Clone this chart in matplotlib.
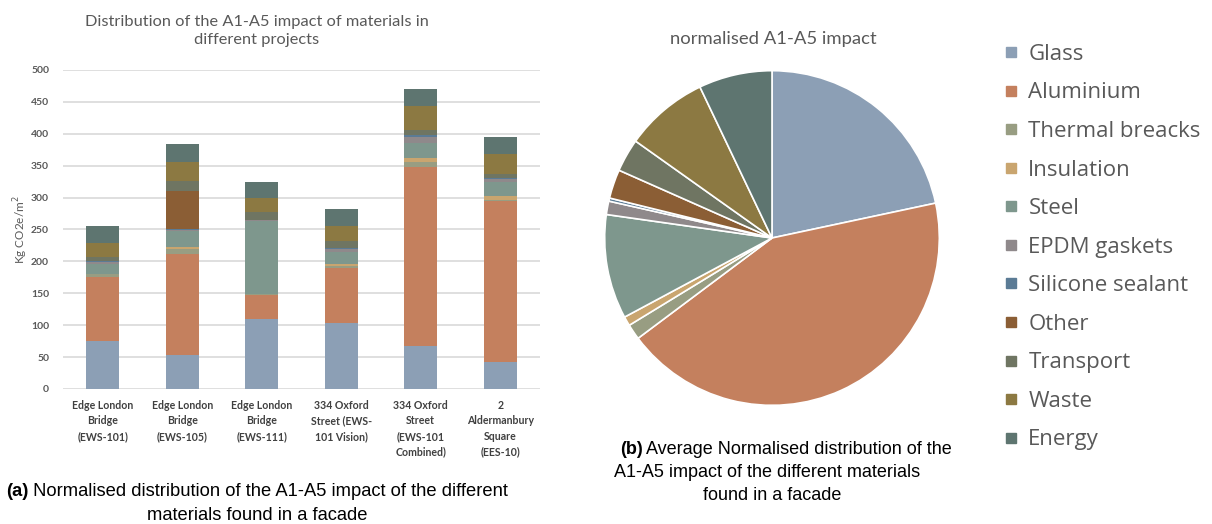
import matplotlib.pyplot as plt
from matplotlib.lines import Line2D
import numpy as np

# --- data -------------------------------------------------------------------
projects = [
    "Edge London\nBridge\n(EWS-101)",
    "Edge London\nBridge\n(EWS-105)",
    "Edge London\nBridge\n(EWS-111)",
    "334 Oxford\nStreet (EWS-\n101 Vision)",
    "334 Oxford\nStreet\n(EWS-101\nCombined)",
    "2\nAldermanbury\nSquare\n(EES-10)",
]
materials = ["Glass", "Aluminium", "Thermal breacks", "Insulation", "Steel",
             "EPDM gaskets", "Silicone sealant", "Other", "Transport",
             "Waste", "Energy"]

glass = [75, 53, 110, 104, 68, 42]
aluminium = [100, 159, 38, 85, 280, 252]
thermal = [5, 8, 1, 4, 8, 3]
insulation = [1, 3, 0, 3, 6, 5]
steel = [15, 25, 115, 18, 24, 22]
epdm = [3, 2, 1, 5, 9, 5]
silicone = [1, 0.5, 0, 2, 3, 2]
other = [0, 60, 0, 0, 0, 0]
transport = [7, 15, 13, 11, 8, 6]
waste = [22, 31, 22, 23, 38, 31]
energy = [26, 27, 25, 27, 26, 27]

# average normalised share (%) for the pie
pie_share = [21.7, 43.2, 1.5, 0.9, 10.1, 1.3, 0.3, 2.8, 3.2, 8.1, 7.1]

colors = ["#8C9FB5", "#C4805E", "#989D82", "#C9A56F", "#7E978D", "#8F898B",
          "#5B7B95", "#8B5E35", "#6F7562", "#8C7942", "#5E7570"]

series = [glass, aluminium, thermal, insulation, steel, epdm, silicone,
          other, transport, waste, energy]

TXT = "#595959"
CHART_FONT = ["Lato", "DejaVu Sans"]
LEG_FONT = ["Open Sans", "DejaVu Sans"]
CAP_FONT = ["Liberation Sans", "DejaVu Sans"]
W, H = 1212, 524

fig = plt.figure(figsize=(W / 100, H / 100), dpi=100)
renderer = fig.canvas.get_renderer()


def caption(prefix, rest, xc, y, size=13.2):
    """Bold prefix followed by regular text, centred on xc (pixels)."""
    a = fig.text(0, 0, prefix, fontsize=size, family=CAP_FONT,
                 fontweight="bold", va="baseline")
    b = fig.text(0, 0, rest, fontsize=size, family=CAP_FONT, va="baseline")
    wa = a.get_window_extent(renderer).width
    wb = b.get_window_extent(renderer).width
    x0 = xc - (wa + wb) / 2
    a.set_position((x0 / W, 1 - y / H))
    b.set_position(((x0 + wa) / W, 1 - y / H))


# --- (a) stacked bars --------------------------------------------------------
ax = fig.add_axes([63 / W, 1 - 389 / H, 477 / W, 319 / H])
x = np.arange(len(projects))
bottom = np.zeros(len(projects))
for vals, col in zip(series, colors):
    ax.bar(x, vals, 0.41, bottom=bottom, color=col, zorder=3)
    bottom += np.array(vals, dtype=float)

ax.set_ylim(0, 500)
ax.set_xlim(-0.5, len(projects) - 0.5)
ax.set_yticks(range(0, 501, 50))
ax.yaxis.grid(True, color="#D9D9D9", linewidth=1.2, zorder=0)
for s in ax.spines.values():
    s.set_visible(False)
ax.tick_params(axis="both", length=0)
ax.tick_params(axis="y", pad=10)
for lab in ax.get_yticklabels():
    lab.set_fontfamily(CHART_FONT)
    lab.set_fontsize(7.5)
    lab.set_fontweight("bold")
    lab.set_color(TXT)
ax.set_xticks(x)
ax.set_xticklabels(projects, fontsize=7.6, fontweight="bold", color="#404040",
                   family=CHART_FONT, linespacing=1.48)
ax.tick_params(axis="x", pad=8)
ax.set_ylabel("Kg CO2e/m$^2$", fontsize=8.5, color=TXT, family=CHART_FONT,
              labelpad=1)

fig.text(257 / W, 1 - 31 / H,
         "Distribution of the A1-A5 impact of materials in\ndifferent projects",
         ha="center", va="center", fontsize=11.8, color=TXT, family=CHART_FONT,
         linespacing=1.35)

# --- (b) pie -----------------------------------------------------------------
pax = fig.add_axes([(772 - 169) / W, (H - 238 - 169) / H, 338 / W, 338 / H])
pax.pie(pie_share, colors=colors, startangle=90, counterclock=False,
        radius=1, wedgeprops=dict(edgecolor="white", linewidth=1.2))
pax.set_xlim(-1.01, 1.01)
pax.set_ylim(-1.01, 1.01)
pax.set_aspect("equal")
fig.text(773 / W, 1 - 39 / H, "normalised A1-A5 impact", ha="center",
         va="center", fontsize=13.3, color=TXT, family=CHART_FONT)

# --- legend ------------------------------------------------------------------
handles = [Line2D([], [], marker="s", linestyle="none", markersize=7,
                  markerfacecolor=c, markeredgecolor=c) for c in colors]
leg = fig.legend(handles, materials, loc="upper left",
                 bbox_to_anchor=(995 / W, 1 - 35 / H), frameon=False,
                 prop={"family": LEG_FONT, "size": 16}, labelspacing=0.79,
                 handlelength=0.6, handletextpad=0.5, borderaxespad=0)
for t in leg.get_texts():
    t.set_color(TXT)

# --- captions ----------------------------------------------------------------
caption("(a)", " Normalised distribution of the A1-A5 impact of the different",
        257, 496)
caption("", "materials found in a facade", 257, 520)

caption("(b)", " Average Normalised distribution of the", 786, 454, 13)
caption("", "A1-A5 impact of the different materials", 767, 477, 13)
caption("", "found in a facade", 772, 500, 13)

fig.savefig("out.png", dpi=100)
